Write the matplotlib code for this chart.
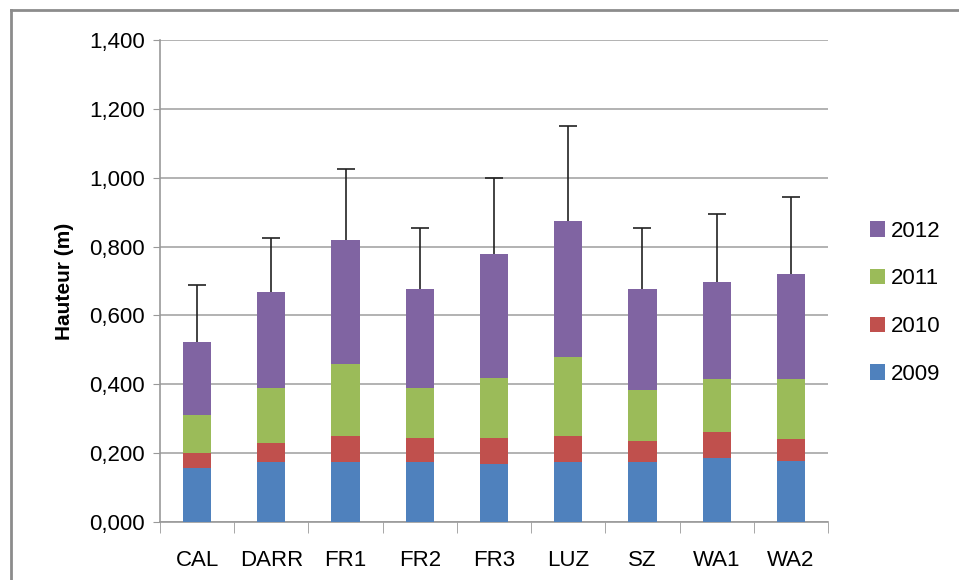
import matplotlib.pyplot as plt
import numpy as np
from matplotlib.lines import Line2D

# bar values (stacked segments, in m)
sites = ["CAL", "DARR", "FR1", "FR2", "FR3", "LUZ", "SZ", "WA1", "WA2"]
h2009 = [0.157, 0.173, 0.173, 0.173, 0.169, 0.173, 0.173, 0.187, 0.177]
h2010 = [0.042, 0.056, 0.078, 0.070, 0.074, 0.078, 0.063, 0.075, 0.063]
h2011 = [0.112, 0.160, 0.209, 0.146, 0.176, 0.228, 0.146, 0.153, 0.175]
h2012 = [0.213, 0.279, 0.358, 0.287, 0.358, 0.395, 0.294, 0.283, 0.306]
err_up = [0.163, 0.156, 0.207, 0.179, 0.223, 0.276, 0.179, 0.197, 0.223]
years = ["2009", "2010", "2011", "2012"]
colors = ["#4f81bd", "#c0504d", "#9bbb59", "#8064a2"]

plt.rcParams['font.family'] = ['Liberation Sans', 'DejaVu Sans']

fig = plt.figure(figsize=(9.59, 5.80), dpi=100)
ax = fig.add_axes([160 / 959, 1 - 522 / 580, 668 / 959, 482 / 580])

x = np.arange(len(sites))
bottom = np.zeros(len(sites))
handles = []
for vals, col, yr in zip([h2009, h2010, h2011, h2012], colors, years):
    b = ax.bar(x, vals, 0.38, bottom=bottom, color=col, label=yr, zorder=3)
    handles.append(b)
    bottom += np.array(vals)

# only the upper error bar is shown
eb = ax.errorbar(x, bottom, yerr=[np.zeros(len(sites)), err_up], fmt='none',
                 ecolor='#222222', elinewidth=1.2, capsize=6.5, capthick=1.2, zorder=4)
eb.lines[1][0].set_visible(False)

ax.set_xlim(-0.5, len(sites) - 0.5)
ax.set_ylim(0, 1.4)
yt = np.arange(0, 1.41, 0.2)
ax.set_yticks(yt)
ax.set_yticklabels([f"{v:.3f}".replace('.', ',') for v in yt], fontsize=16)
ax.set_xticks(x)
ax.set_xticklabels(sites, fontsize=16)
ax.set_xticks(np.arange(-0.5, len(sites)), minor=True)
ax.tick_params(axis='x', which='major', length=0, pad=20)
ax.tick_params(axis='x', which='minor', length=8, color='#999999')
ax.tick_params(axis='y', length=5, color='#999999', pad=6)
ax.yaxis.grid(True, color='#a6a6a6', linewidth=1.2, zorder=0)
for s in ['top', 'right']:
    ax.spines[s].set_visible(False)
for s in ['left', 'bottom']:
    ax.spines[s].set_color('#999999')
    ax.spines[s].set_linewidth(1.2)
ax.set_ylabel("Hauteur (m)", fontsize=15, fontweight='bold', labelpad=11)

leg = ax.legend(handles[::-1], years[::-1], loc='center left',
                bbox_to_anchor=(1.033, 0.455), frameon=False, fontsize=16,
                handlelength=0.68, handleheight=0.68, handletextpad=0.27,
                labelspacing=1.2)

# outer chart frame (top and left edges only visible)
fig.add_artist(Line2D([11 / 959, 1.0], [1 - 10 / 580] * 2, transform=fig.transFigure,
                      color='#8c8c8c', linewidth=2))
fig.add_artist(Line2D([11 / 959] * 2, [0.0, 1 - 10 / 580], transform=fig.transFigure,
                      color='#8c8c8c', linewidth=2))

fig.savefig("out.png", dpi=100)
